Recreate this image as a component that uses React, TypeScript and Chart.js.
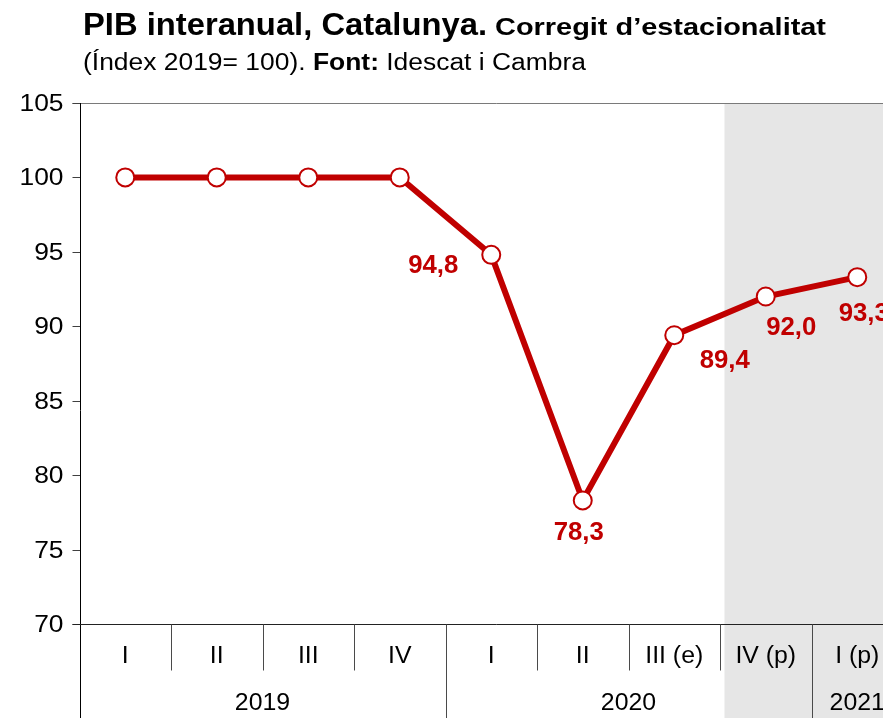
import React, { useEffect, useRef } from 'react';
import { Chart, registerables } from 'chart.js';

Chart.register(...registerables);

// ---- data ----
const quarters = ['I', 'II', 'III', 'IV', 'I', 'II', 'III (e)', 'IV (p)', 'I (p)'];
const years = ['2019', '2020', '2021'];
const quartersPerYear = [4, 4, 1];
const values = [100, 100, 100, 100, 94.8, 78.3, 89.4, 92.0, 93.3];
const yTicks = [70, 75, 80, 85, 90, 95, 100, 105];
const labelledPoints = [4, 5, 6, 7, 8];
const firstProjected = 7;

const titleMain = 'PIB interanual, Catalunya.';
const titleSub = 'Corregit d’estacionalitat';
const subtitleParts: [string, boolean][] = [
  ['(Índex 2019= 100). ', false],
  ['Font:', true],
  [' Idescat i Cambra', false],
];

// ---- styles / layout ----
const RED = '#C00000';
const FONT = '"Liberation Sans", Arial, Helvetica, sans-serif';
const CANVAS_W = 920;
const CANVAS_H = 718;
const labelOffsets: Record<number, [number, number]> = {
  4: [-58, 18],
  5: [-4, 39.5],
  6: [50.5, 33],
  7: [25.5, 38],
  8: [6.5, 43.5],
};

function setFont(ctx: CanvasRenderingContext2D, size: number, bold: boolean) {
  ctx.font = `${bold ? 'bold ' : ''}${size}px ${FONT}`;
}

function drawText(
  ctx: CanvasRenderingContext2D,
  text: string,
  x: number,
  y: number,
  size: number,
  bold: boolean,
  color: string,
  sx: number,
  align: 'left' | 'center' | 'right' = 'left'
): number {
  ctx.save();
  setFont(ctx, size, bold);
  const w = ctx.measureText(text).width * sx;
  let left = x;
  if (align === 'center') left = x - w / 2;
  else if (align === 'right') left = x - w;
  ctx.translate(left, y);
  ctx.scale(sx, 1);
  ctx.fillStyle = color;
  ctx.textAlign = 'left';
  ctx.textBaseline = 'alphabetic';
  ctx.fillText(text, 0, 0);
  ctx.restore();
  return left + w;
}

// draw a run of text parts fitted to a target width
function drawFitted(
  ctx: CanvasRenderingContext2D,
  parts: [string, boolean][],
  x: number,
  y: number,
  size: number,
  width: number
) {
  ctx.save();
  let natural = 0;
  parts.forEach(([t, b]) => {
    setFont(ctx, size, b);
    natural += ctx.measureText(t).width;
  });
  ctx.restore();
  const sx = width / natural;
  let cx = x;
  parts.forEach(([t, b]) => {
    cx = drawText(ctx, t, cx, y, size, b, '#000', sx);
  });
}

function line(ctx: CanvasRenderingContext2D, x1: number, y1: number, x2: number, y2: number, color: string) {
  ctx.save();
  ctx.strokeStyle = color;
  ctx.lineWidth = 1;
  ctx.beginPath();
  ctx.moveTo(x1, y1);
  ctx.lineTo(x2, y2);
  ctx.stroke();
  ctx.restore();
}

const decorPlugin = {
  id: 'decor',
  beforeDatasetsDraw(chart: any) {
    const { ctx, chartArea } = chart;
    const xs = chart.scales.x;
    const ys = chart.scales.y;
    const W = chart.width;
    const H = chart.height;
    // shaded projection area
    const gx = xs.getPixelForValue(firstProjected - 0.5) + 4.5;
    ctx.save();
    ctx.fillStyle = '#E6E6E6';
    ctx.fillRect(gx, chartArea.top, W - gx, H - chartArea.top);
    ctx.restore();

    const axX = Math.round(chartArea.left) + 0.5;
    const topY = Math.round(ys.getPixelForValue(yTicks[yTicks.length - 1])) + 0.5;
    const botY = Math.round(ys.getPixelForValue(yTicks[0])) + 0.5;
    line(ctx, axX - 8, topY, W, topY, '#7a7a7a');
    yTicks.forEach((t) => {
      const py = Math.round(ys.getPixelForValue(t)) + 0.5;
      line(ctx, axX - 8, py, axX, py, '#404040');
    });
    line(ctx, axX, chartArea.top, axX, H, '#000');
    line(ctx, axX - 8, botY, W, botY, '#222');
    const yearBounds: number[] = [];
    let acc = 0;
    quartersPerYear.forEach((n) => {
      acc += n;
      yearBounds.push(acc - 0.5);
    });
    for (let i = 0; i < quarters.length - 1; i++) {
      const b = i + 0.5;
      const px = Math.round(xs.getPixelForValue(b)) + 0.5;
      const full = yearBounds.includes(b);
      line(ctx, px, botY, px, full ? H : botY + 46, '#4a4a4a');
    }
  },
  afterDraw(chart: any) {
    const { ctx } = chart;
    const xs = chart.scales.x;
    const ys = chart.scales.y;
    const axX = chart.chartArea.left;
    // titles
    drawFitted(ctx, [[titleMain, true]], 83, 35, 32, 404);
    drawFitted(ctx, [[titleSub, true]], 495, 35, 24, 331);
    drawFitted(ctx, subtitleParts, 83, 70, 23, 503);
    // y tick labels
    yTicks.forEach((t) => {
      const py = ys.getPixelForValue(t);
      drawText(ctx, String(t), axX - 16, py + 8, 24, false, '#000', 1.1, 'right');
    });
    // quarter labels
    quarters.forEach((q, i) => {
      drawText(ctx, q, xs.getPixelForValue(i), 663, 23, false, '#000', 1.08, 'center');
    });
    // year labels
    let start = 0;
    years.forEach((yr, k) => {
      const n = quartersPerYear[k];
      const a = xs.getPixelForValue(start - 0.5);
      const b = xs.getPixelForValue(start + n - 0.5);
      drawText(ctx, yr, (a + b) / 2, 710, 23, false, '#000', 1.08, 'center');
      start += n;
    });
    // data labels
    const meta = chart.getDatasetMeta(0);
    labelledPoints.forEach((i) => {
      const pt = meta.data[i];
      const [dx, dy] = labelOffsets[i];
      const txt = values[i].toFixed(1).replace('.', ',');
      drawText(ctx, txt, pt.x + dx, pt.y + dy, 25, true, RED, 1.03, 'center');
    });
  },
};

export default function App() {
  const ref = useRef<HTMLCanvasElement | null>(null);
  useEffect(() => {
    if (!ref.current) return;
    const chart = new Chart(ref.current, {
      type: 'line',
      data: {
        labels: quarters,
        datasets: [
          {
            data: values,
            borderColor: RED,
            borderWidth: 6,
            pointRadius: 9,
            pointHoverRadius: 9,
            pointBackgroundColor: '#ffffff',
            pointBorderColor: RED,
            pointBorderWidth: 2,
            tension: 0,
            clip: false as any,
          },
        ],
      },
      options: {
        responsive: false,
        animation: false,
        devicePixelRatio: 1,
        layout: { padding: { left: 79.5, right: 17, top: 103, bottom: 94 } },
        plugins: { legend: { display: false }, tooltip: { enabled: false }, title: { display: false } },
        scales: {
          x: { type: 'category', offset: true, display: false },
          y: { type: 'linear', min: 70, max: 105, display: false },
        },
      },
      plugins: [decorPlugin],
    });
    return () => chart.destroy();
  }, []);
  return (
    <div style={{ position: 'fixed', left: 0, top: 0, width: 883, height: 718, overflow: 'hidden', background: '#fff' }}>
      <canvas ref={ref} width={CANVAS_W} height={CANVAS_H} style={{ display: 'block', width: CANVAS_W, height: CANVAS_H }} />
    </div>
  );
}
